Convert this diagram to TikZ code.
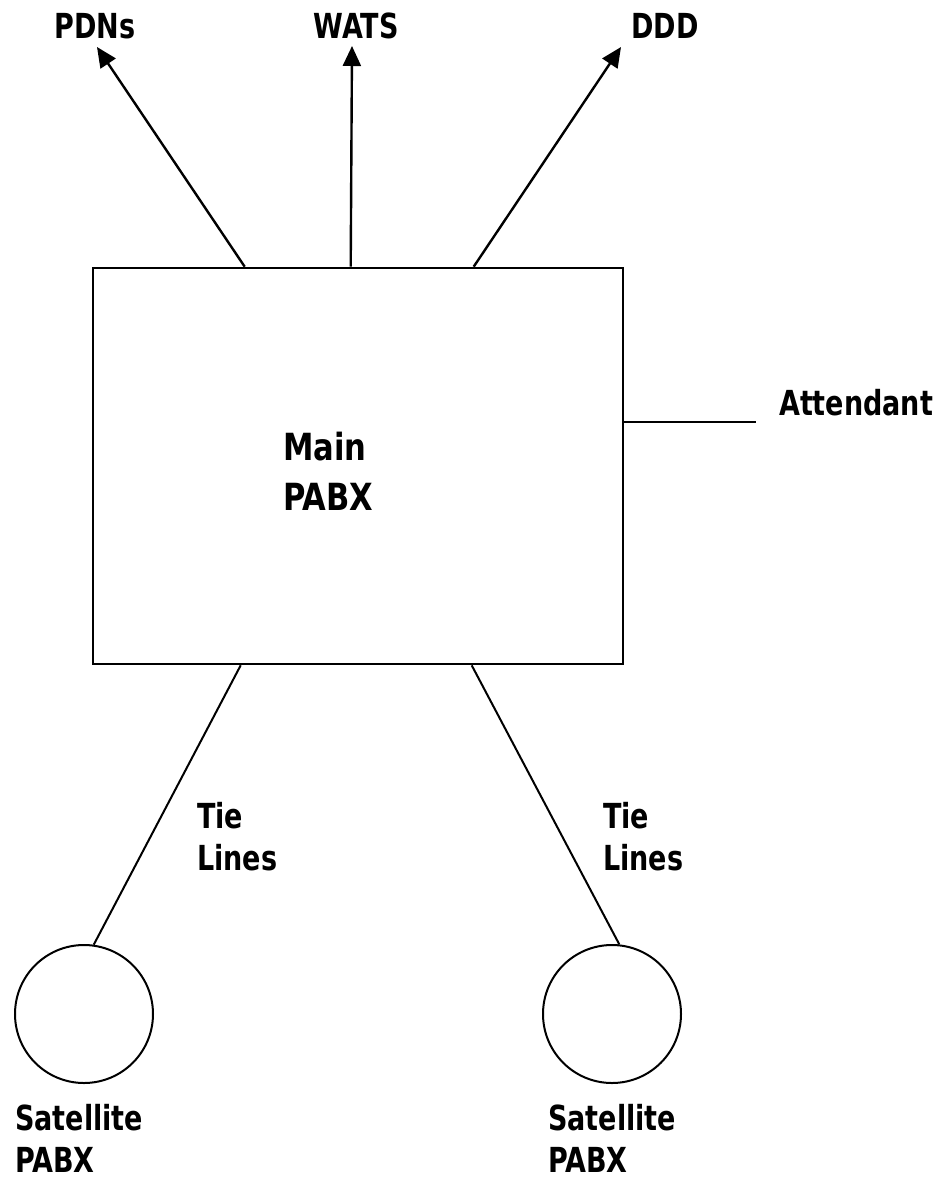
\documentclass[tikz,border=0pt]{standalone}
\usepackage{fontspec}
\usepackage{graphicx}
\setmainfont{DejaVu Sans Condensed}
\usetikzlibrary{arrows.meta,calc}
% stretched, condensed bold lettering
\newcommand\tallword[2][1.15]{\scalebox{1}[#1]{#2}}
% same, with no depth below the baseline
\newcommand\flatword[1]{\raisebox{0pt}[\height][0pt]{\tallword{#1}}}
\tikzset{
  lbl/.style={font=\bfseries\fontsize{30}{42}\selectfont, inner sep=0pt, align=left},
  biglbl/.style={font=\bfseries\fontsize{34}{50}\selectfont, inner sep=0pt, align=left},
  feed/.style={line width=2.4pt, -{Triangle[length=20pt,width=18pt]}},
  tie/.style={line width=2pt},
  sat/.style={draw, line width=2pt, circle, minimum size=138pt, inner sep=0pt},
}
\begin{document}
\begin{tikzpicture}[x=1pt,y=-1pt]
  \useasboundingbox (0,0) rectangle (942,1178);
  % main switch
  \node[draw, line width=2.6pt, minimum width=530pt, minimum height=396pt, inner sep=0pt] (main) at (358,466) {};
  \node[biglbl, anchor=base west] (mainlbl) at (283,510) {\tallword[1.1]{Main}\\\tallword[1.1]{PABX}};
  % outgoing services
  \node[lbl, anchor=base] (pdn) at (95,38) {\tallword{PDNs}};
  \node[lbl, anchor=base] (wats) at (356,38) {\tallword{WATS}};
  \node[lbl, anchor=base west] (ddd) at (631,38) {\tallword{DDD}};
  \coordinate (pdntip) at (97,47);
  \coordinate (watstip) at (352,46);
  \coordinate (dddtip) at (621,47);
  \draw[feed] ([xshift=153pt]main.north west) -- (pdntip);
  \draw[feed] ([xshift=259pt]main.north west) -- (watstip);
  \draw[feed] ([xshift=382pt]main.north west) -- (dddtip);
  % attendant position
  \coordinate (attend) at (756,422);
  \draw[tie] (main.east |- attend) -- (attend);
  \node[lbl, anchor=base west] (att) at (779,415) {\tallword{Attendant}};
  % satellites on tie lines
  \node[sat] (sat1) at (84,1014) {};
  \node[sat] (sat2) at (612,1014) {};
  \draw[tie] ([xshift=149pt]main.south west) -- (sat1.82);
  \draw[tie] ([xshift=380pt]main.south west) -- (sat2.84);
  \node[lbl, anchor=base west] (tie1) at (197,870) {\tallword{Tie}\\\tallword{Lines}};
  \node[lbl, anchor=base west] (tie2) at (603,870) {\tallword{Tie}\\\tallword{Lines}};
  \node[lbl, anchor=base west] (sl1) at (15,1172) {\tallword{Satellite}\\\flatword{PABX}};
  \node[lbl, anchor=base west] (sl2) at (548,1172) {\tallword{Satellite}\\\flatword{PABX}};
\end{tikzpicture}
\end{document}
